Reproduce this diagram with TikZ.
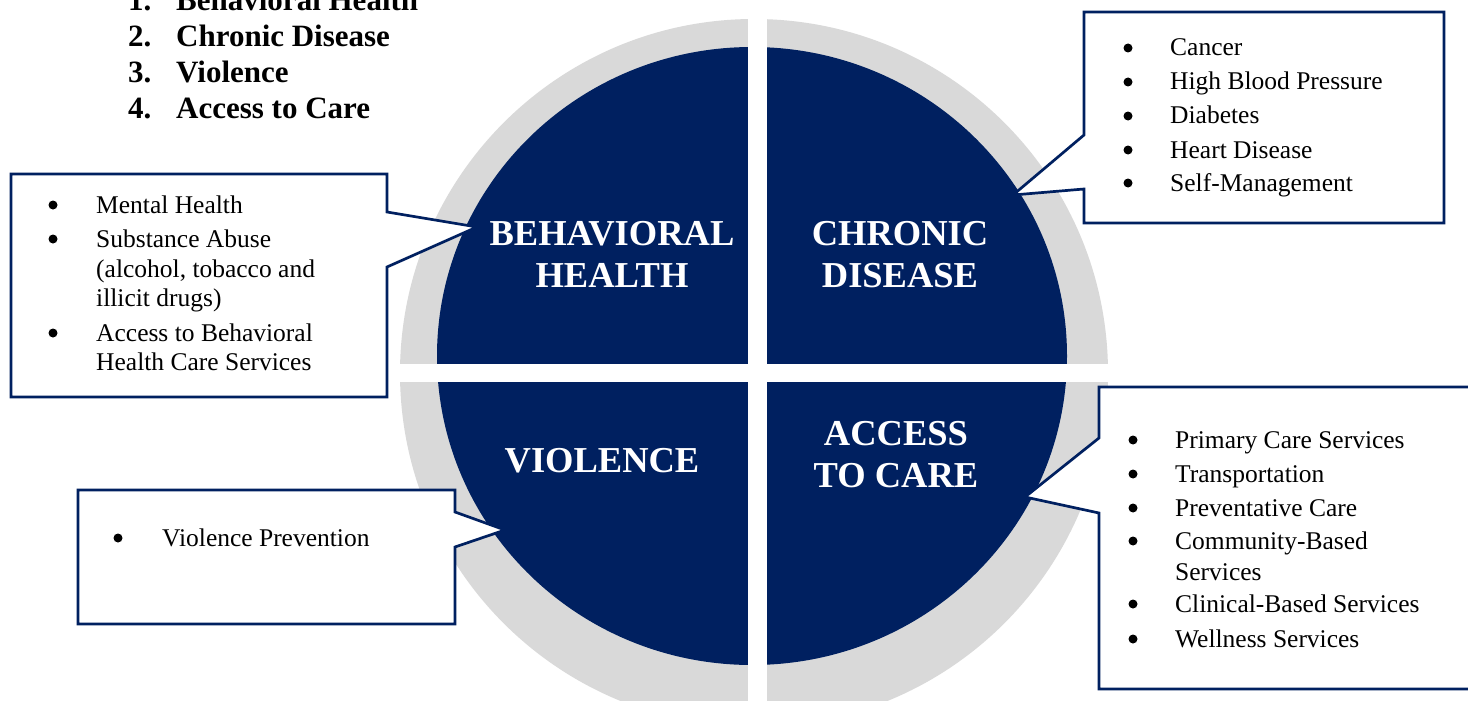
\documentclass[tikz,border=0pt]{standalone}
\usepackage{fontspec}
\setmainfont{Liberation Serif}
\definecolor{navy}{HTML}{002060}
\definecolor{ringgray}{HTML}{D9D9D9}
\begin{document}
\begin{tikzpicture}[x=1pt,y=-1pt,
  callout/.style={draw=navy, line width=2.7pt, fill=white, line join=miter},
  itemtxt/.style={anchor=base west, inner sep=0pt, font=\fontsize{25.5}{29.5}\selectfont},
  bul/.style={circle, fill=black, inner sep=0pt, minimum size=9pt},
  head/.style={anchor=base, inner sep=0pt, text=white, font=\bfseries\fontsize{36.5}{42}\selectfont},
  toplist/.style={anchor=base west, inner sep=0pt, font=\bfseries\fontsize{31}{36}\selectfont}]
\useasboundingbox (0,0) rectangle (1468,701);
\fill[white] (0,0) rectangle (1468,701);
% ring and disc
\begin{scope}
  \clip (0,0) rectangle (1468,701);
  \fill[ringgray] (754,373) circle[radius=354];
  \fill[navy] (752,356) ellipse[x radius=315, y radius=309];
  \fill[white] (748,0) rectangle (767,701);
  \fill[white] (392,364) rectangle (1120,382);
\end{scope}
% top list
\node[toplist] (n1) at (128,11) {1.};
\node[toplist] (t1) at (176,11) {Behavioral Health};
\node[toplist] (n2) at (128,47) {2.};
\node[toplist] (t2) at (176,47) {Chronic Disease};
\node[toplist] (n3) at (128,83) {3.};
\node[toplist] (t3) at (176,83) {Violence};
\node[toplist] (n4) at (128,118) {4.};
\node[toplist] (t4) at (176,118) {Access to Care};
% headings
\node[head] (bh1) at (612,245) {BEHAVIORAL};
\node[head] (bh2) at (612,287) {HEALTH};
\node[head] (cd1) at (900,245) {CHRONIC};
\node[head] (cd2) at (900,287) {DISEASE};
\node[head] (vi1) at (602,472) {VIOLENCE};
\node[head] (ac1) at (896,445) {ACCESS};
\node[head] (ac2) at (896,487) {TO CARE};
% callouts
\draw[callout] (11,174) -- (387,174) -- (387,212) -- (477,227) -- (387,267) -- (387,397) -- (11,397) -- cycle;
\draw[callout] (1084,12) -- (1444,12) -- (1444,223) -- (1084,223) -- (1084,189) -- (1013,195) -- (1084,135) -- cycle;
\draw[callout] (78,490) -- (455,490) -- (455,512) -- (505,530) -- (455,547) -- (455,624) -- (78,624) -- cycle;
\draw[callout] (1099,387) -- (1490,387) -- (1490,689) -- (1099,689) -- (1099,513) -- (1025,497) -- (1099,438) -- cycle;
% behavioral health list
\node[bul] (bb1) at (53,205) {};
\node[itemtxt] (bt1) at (96,213) {Mental Health};
\node[bul] (bb2) at (53,239) {};
\node[itemtxt] (bt2) at (96,247) {Substance Abuse};
\node[itemtxt] (bt3) at (96,277) {(alcohol, tobacco and};
\node[itemtxt] (bt4) at (96,306) {illicit drugs)};
\node[bul] (bb3) at (53,333) {};
\node[itemtxt] (bt5) at (96,341) {Access to Behavioral};
\node[itemtxt] (bt6) at (96,370) {Health Care Services};
% chronic disease list
\node[bul] (cb1) at (1128,48) {};
\node[itemtxt] (ct1) at (1170,56) {Cancer};
\node[bul] (cb2) at (1128,82) {};
\node[itemtxt] (ct2) at (1170,90) {High Blood Pressure};
\node[bul] (cb3) at (1128,116) {};
\node[itemtxt] (ct3) at (1170,124) {Diabetes};
\node[bul] (cb4) at (1128,150) {};
\node[itemtxt] (ct4) at (1170,158) {Heart Disease};
\node[bul] (cb5) at (1128,183) {};
\node[itemtxt] (ct5) at (1170,191) {Self-Management};
% violence list
\node[bul] (vb1) at (118,538) {};
\node[itemtxt] (vt1) at (162,546) {Violence Prevention};
% access to care list
\node[bul] (ab1) at (1133,440) {};
\node[itemtxt] (at1) at (1175,448) {Primary Care Services};
\node[bul] (ab2) at (1133,474) {};
\node[itemtxt] (at2) at (1175,482) {Transportation};
\node[bul] (ab3) at (1133,508) {};
\node[itemtxt] (at3) at (1175,516) {Preventative Care};
\node[bul] (ab4) at (1133,541) {};
\node[itemtxt] (at4) at (1175,549) {Community-Based};
\node[itemtxt] (at5) at (1175,580) {Services};
\node[bul] (ab5) at (1133,604) {};
\node[itemtxt] (at6) at (1175,612) {Clinical-Based Services};
\node[bul] (ab6) at (1133,639) {};
\node[itemtxt] (at7) at (1175,647) {Wellness Services};
\end{tikzpicture}
\end{document}
